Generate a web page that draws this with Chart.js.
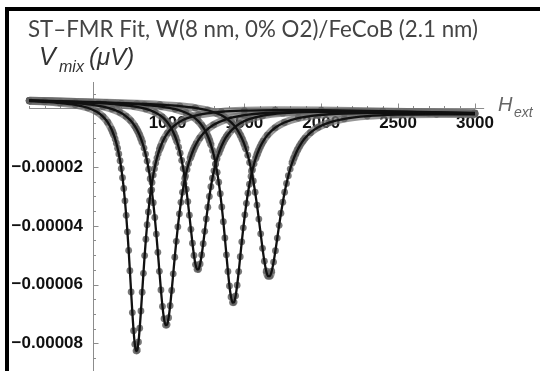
<!DOCTYPE html>
<html><head><meta charset="utf-8">
<script src="https://cdn.jsdelivr.net/npm/chart.js@4.4.0/dist/chart.umd.min.js"></script>
<style>html,body{margin:0;padding:0;background:#fff}#wrap{width:540px;height:371px;position:relative}</style>
</head><body><div id="wrap"><canvas id="c" width="540" height="371"></canvas></div>
<script>
// ---- data (H in Oe, V in units of 1e-6) ----
const fieldA = [100,200,300,400,480,540,580,610,
 635,643,651,659,667,675,683,691,699,707,715,723,731,739,747,755,763,771,779,787,795,803,811,819,827,835,843,851,859,867,875,883,891,899,907,915,923,931,939,947,955,
 975,1000,1040,1100,1200,1350,1500,1700,2000,2400,3000];
const vmixA = [2.52,2.26,1.87,1.22,0.23,-1.17,-2.79,-4.69,
 -7.05,-8.02,-9.13,-10.41,-11.87,-13.57,-15.53,-17.82,-20.49,-23.61,-27.25,-31.50,-36.42,-42.05,-48.39,-55.30,-62.52,-69.56,-75.74,-80.31,-82.60,-82.30,-79.55,-74.88,-69.00,-62.60,-56.19,-50.13,-44.58,-39.63,-35.26,-31.45,-28.13,-25.23,-22.72,-20.52,-18.61,-16.92,-15.45,-14.14,-12.98,
 -10.58,-8.42,-6.06,-3.96,-2.22,-1.14,-0.73,-0.56,-0.63,-0.94,-1.57];

const fieldB = [100,200,300,400,500,580,640,690,730,760,
 787,797,807,817,827,837,847,857,867,877,887,897,907,917,927,937,947,957,967,977,987,997,1007,1017,1027,1037,1047,1057,1067,1077,1087,1097,1107,1117,1127,1137,1147,1157,1167,1177,1187,
 1210,1250,1300,1380,1500,1650,1850,2100,2500,3000];
const vmixB = [2.61,2.41,2.15,1.81,1.29,0.59,-0.24,-1.34,-2.69,-4.15,
 -6.00,-6.86,-7.85,-8.98,-10.28,-11.78,-13.52,-15.56,-17.93,-20.70,-23.95,-27.73,-32.12,-37.16,-42.83,-49.03,-55.52,-61.87,-67.48,-71.65,-73.80,-73.65,-71.29,-67.21,-62.03,-56.35,-50.67,-45.27,-40.33,-35.91,-32.01,-28.60,-25.62,-23.04,-20.78,-18.81,-17.09,-15.58,-14.25,-13.08,-12.04,
 -10.06,-7.59,-5.59,-3.72,-2.32,-1.55,-1.15,-1.06,-1.25,-1.71];

const fieldC = [100,250,400,550,680,780,860,920,965,
 992,1002,1012,1022,1032,1042,1052,1062,1072,1082,1092,1102,1112,1122,1132,1142,1152,1162,1172,1182,1192,1202,1212,1222,1232,1242,1252,1262,1272,1282,1292,1302,1312,1322,1332,1342,1352,1362,1372,1382,1392,
 1420,1470,1530,1620,1750,1950,2200,2550,3000];
const vmixC = [2.64,2.41,2.15,1.80,1.33,0.71,-0.19,-1.39,-2.92,
 -4.30,-4.95,-5.68,-6.52,-7.49,-8.61,-9.91,-11.43,-13.20,-15.26,-17.68,-20.50,-23.77,-27.52,-31.74,-36.36,-41.19,-45.92,-50.09,-53.21,-54.82,-54.71,-52.97,-49.94,-46.09,-41.88,-37.65,-33.64,-29.97,-26.69,-23.79,-21.26,-19.05,-17.12,-15.45,-13.99,-12.71,-11.59,-10.60,-9.73,-8.96,
 -7.22,-5.15,-3.67,-2.45,-1.61,-1.15,-1.05,-1.23,-1.64];

const fieldD = [100,300,500,700,850,960,1050,1120,1170,1200,
 1223,1233,1243,1253,1263,1273,1283,1293,1303,1313,1323,1333,1343,1353,1363,1373,1383,1393,1403,1413,1423,1433,1443,1453,1463,1473,1483,1493,1503,1513,1523,1533,1543,1553,1563,1573,1583,1593,1603,1613,1623,
 1650,1700,1760,1850,1980,2150,2400,2700,3000];
const vmixD = [2.68,2.40,2.08,1.68,1.21,0.62,-0.24,-1.46,-2.96,-4.33,
 -5.77,-6.54,-7.42,-8.43,-9.59,-10.93,-12.49,-14.30,-16.42,-18.89,-21.78,-25.16,-29.07,-33.55,-38.60,-44.12,-49.89,-55.53,-60.51,-64.22,-66.12,-65.97,-63.86,-60.21,-55.59,-50.54,-45.47,-40.67,-36.27,-32.34,-28.87,-25.84,-23.19,-20.89,-18.88,-17.14,-15.61,-14.27,-13.09,-12.05,-11.12,
 -9.10,-6.60,-4.80,-3.31,-2.28,-1.73,-1.51,-1.58,-1.80];

const fieldE = [100,350,600,800,950,1080,1180,1260,1320,1370,
 1414,1426,1438,1450,1462,1474,1486,1498,1510,1522,1534,1546,1558,1570,1582,1594,1606,1618,1630,1642,1654,1666,1678,1690,1702,1714,1726,1738,1750,1762,1774,1786,1798,1810,1822,1834,1846,1858,1870,1882,1894,
 1930,1980,2050,2150,2300,2500,2750,3000];
const vmixE = [2.71,2.38,2.01,1.65,1.28,0.80,0.19,-0.63,-1.62,-2.93,
 -4.74,-5.39,-6.14,-7.00,-7.99,-9.14,-10.47,-12.02,-13.83,-15.95,-18.43,-21.33,-24.70,-28.57,-32.93,-37.72,-42.74,-47.67,-52.05,-55.36,-57.12,-57.11,-55.41,-52.37,-48.46,-44.16,-39.84,-35.72,-31.95,-28.56,-25.57,-22.95,-20.66,-18.67,-16.93,-15.42,-14.09,-12.93,-11.90,-10.99,-10.19,
 -8.27,-6.44,-4.83,-3.55,-2.62,-2.14,-1.99,-2.06];

const xTickValues = [1000,1500,2000,2500,3000];
const xTickLabels = ['1000','1500','2000','2500','3000'];
const yTickValues = [-20,-40,-60,-80];
const yTickLabels = ['\u22120.00002','\u22120.00004','\u22120.00006','\u22120.00008'];
const titleText = 'ST\u2013FMR Fit, W(8 nm, 0% O2)/FeCoB (2.1 nm)';

// ---- chart ----
const curves = [[fieldA,vmixA],[fieldB,vmixB],[fieldC,vmixC],[fieldD,vmixD],[fieldE,vmixE]];
const pts = (h,v) => h.map((hh,i)=>({x:hh,y:v[i]}));
const BAND = 'rgba(110,110,110,0.72)';
const datasets = [];
curves.forEach(([h,v])=>{
  datasets.push({data:pts(h,v), order:0, borderColor:'#111', borderWidth:2.3,
    pointRadius:0, cubicInterpolationMode:'monotone', showLine:true});
});
curves.forEach(([h,v])=>{
  datasets.push({data:pts(h,v), showLine:true, order:1, borderWidth:7.5, borderColor:BAND,
    cubicInterpolationMode:'monotone',
    segment:{borderColor:c=>{const dx=Math.abs(c.p1.x-c.p0.x),dy=Math.abs(c.p1.y-c.p0.y);return dy>3*dx?'rgba(0,0,0,0)':BAND;}},
    pointRadius:3.4, pointBackgroundColor:'rgba(95,95,95,0.85)', pointBorderWidth:0});
});

const AXIS_H = 512;
const decor = {
  id:'decor',
  beforeDatasetsDraw(chart){
    const {ctx, scales:{x,y}} = chart;
    ctx.save();
    const y0 = Math.round(y.getPixelForValue(0))+0.5;
    const xa = Math.round(x.getPixelForValue(AXIS_H))+0.5;
    ctx.strokeStyle='#8c8c8c'; ctx.lineWidth=1;
    ctx.beginPath();
    ctx.moveTo(x.getPixelForValue(100),y0); ctx.lineTo(x.getPixelForValue(3060),y0);
    ctx.moveTo(xa,y.getPixelForValue(9)); ctx.lineTo(xa,371);
    for(let h=100;h<=3000;h+=100){
      const px=Math.round(x.getPixelForValue(h))+0.5;
      const len = (h%500===0)?5:2.5;
      ctx.moveTo(px,y0); ctx.lineTo(px,y0-len);
    }
    for(let v=5;v>=-85;v-=5){
      if(v===0) continue;
      const py=Math.round(y.getPixelForValue(v))+0.5;
      const len=(v%20===0)?5:2.5;
      ctx.moveTo(xa,py); ctx.lineTo(xa+len,py);
    }
    ctx.stroke();
    ctx.fillStyle='#111';
    ctx.font='bold 17px "Liberation Sans", Arial, sans-serif';
    ctx.textBaseline='middle';
    ctx.textAlign='center';
    xTickValues.forEach((v,i)=>ctx.fillText(xTickLabels[i], x.getPixelForValue(v), y0+15));
    ctx.textAlign='right';
    yTickValues.forEach((v,i)=>ctx.fillText(yTickLabels[i], 83, y.getPixelForValue(v)));
    ctx.restore();
  },
  afterDraw(chart){
    const {ctx} = chart;
    ctx.save();
    ctx.fillStyle='#000';
    ctx.fillRect(5,7,535,4);
    ctx.fillRect(5,7,4,364);
    ctx.fillStyle='#444';
    ctx.textBaseline='alphabetic'; ctx.textAlign='left';
    ctx.font='22.3px Lato, "Open Sans", sans-serif';
    ctx.fillText(titleText, 28, 37);
    ctx.fillStyle='#333';
    ctx.font='italic 25px "Liberation Sans", Arial, sans-serif';
    ctx.fillText('V', 39, 65);
    ctx.font='italic 16px "Liberation Sans", Arial, sans-serif';
    ctx.fillText('mix', 59, 72);
    ctx.font='italic 24px "Liberation Sans", Arial, sans-serif';
    ctx.fillText('(\u03BCV)', 89, 65);
    ctx.fillStyle='#666';
    ctx.font='italic 20px "Liberation Sans", Arial, sans-serif';
    ctx.fillText('H', 498, 111);
    ctx.font='italic 14px "Liberation Sans", Arial, sans-serif';
    ctx.fillText('ext', 514, 117);
    ctx.restore();
  }
};

new Chart(document.getElementById('c'), {
  type:'scatter',
  data:{datasets},
  options:{
    responsive:false, animation:false, events:[],
    layout:{padding:0},
    plugins:{legend:{display:false}, tooltip:{enabled:false}, title:{display:false}},
    scales:{
      x:{type:'linear', min:-64.1, max:3397.4, display:false},
      y:{type:'linear', min:-88.1, max:35.57, display:false}
    }
  },
  plugins:[decor]
});
</script></body></html>
